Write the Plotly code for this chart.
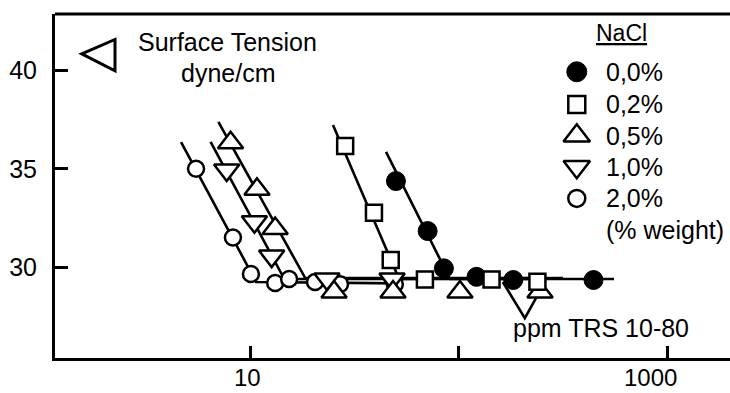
import math
import plotly.graph_objects as go

# ---------------- data ----------------
nacl_labels = ["0,0%", "0,2%", "0,5%", "1,0%", "2,0%"]

x_00 = [50.1, 71.1, 85.1, 122, 183, 444]
y_00 = [34.38, 31.85, 29.96, 29.53, 29.37, 29.37]
x_02 = [28.6, 39.3, 47.3, 69.0, 144, 239]
y_02 = [36.15, 32.77, 30.38, 29.40, 29.40, 29.28]
x_05 = [8.07, 10.8, 13.2, 25.3, 48.5, 101.6, 246]
y_05 = [36.32, 33.96, 31.98, 28.76, 28.76, 28.76, 28.76]
x_10 = [7.73, 10.5, 12.7, 23.4, 48.0]
y_10 = [34.94, 32.32, 30.58, 29.42, 29.42]
x_20 = [5.51, 8.28, 10.1, 13.2, 15.4, 20.5, 27.0, 49.5]
y_20 = [35.0, 31.52, 29.67, 29.22, 29.42, 29.27, 29.16, 29.16]

# fitted lines (steep part + plateau)
fit_x_00 = [44.9, 91, 557]
fit_y_00 = [35.86, 29.42, 29.42]
fit_x_02 = [25.0, 51.9, 317]
fit_y_02 = [37.22, 29.42, 29.47]
fit_x_05 = [7.05, 18.4, 260]
fit_y_05 = [37.38, 29.47, 29.47]
fit_x_10 = [6.47, 14.6, 260]
fit_y_10 = [36.37, 29.42, 29.42]
fit_x_20 = [4.67, 10.7, 52.4]
fit_y_20 = [36.35, 29.27, 29.2]

# callout V pointing to the "ppm TRS" note
callout_x = [163, 208, 260]
callout_y = [29.27, 27.44, 29.27]

x_tick_vals = [10, 100, 1000]
x_tick_text = ["10", "", "1000"]
y_tick_vals = [30, 35, 40]
y_tick_text = ["30", "35", "40"]

# legend rows (fractions of the plot area)
legend_x = 0.773
legend_y = [0.832, 0.737, 0.646, 0.556, 0.464]

# ---------------- styles ----------------
FONT = "Liberation Sans, Arial, Helvetica, sans-serif"
FS = 25
BLK = "black"
LW = 2.6
x_label_shift = [-3, 0, -17]   # horizontal label offsets (px) as in the original

styles = [
    dict(symbol="circle", size=19, color=BLK, line=dict(color=BLK, width=1)),
    dict(symbol="square", size=16, color="white", line=dict(color=BLK, width=2.5)),
    dict(symbol="triangle-up", size=22, color="white", line=dict(color=BLK, width=2.5)),
    dict(symbol="triangle-down", size=22, color="white", line=dict(color=BLK, width=2.5)),
    dict(symbol="circle", size=16, color="white", line=dict(color=BLK, width=2.5)),
]
legend_styles = [
    dict(symbol="circle", size=20, color=BLK, line=dict(color=BLK, width=1)),
    dict(symbol="square", size=17, color="white", line=dict(color=BLK, width=2.5)),
    dict(symbol="triangle-up", size=23, color="white", line=dict(color=BLK, width=2.5)),
    dict(symbol="triangle-down", size=23, color="white", line=dict(color=BLK, width=2.5)),
    dict(symbol="circle", size=17, color="white", line=dict(color=BLK, width=2.5)),
]

series_x = [x_00, x_02, x_05, x_10, x_20]
series_y = [y_00, y_02, y_05, y_10, y_20]
fits_x = [fit_x_00, fit_x_02, fit_x_05, fit_x_10, fit_x_20]
fits_y = [fit_y_00, fit_y_02, fit_y_05, fit_y_10, fit_y_20]

fig = go.Figure()

# callout and fit lines first
fig.add_trace(go.Scatter(x=callout_x, y=callout_y, mode="lines",
                         line=dict(color=BLK, width=LW), showlegend=False,
                         hoverinfo="skip"))
for fx, fy in zip(fits_x, fits_y):
    fig.add_trace(go.Scatter(x=fx, y=fy, mode="lines",
                             line=dict(color=BLK, width=LW), showlegend=False,
                             hoverinfo="skip"))

# markers (bottom to top)
draw_order = [4, 3, 2, 0, 1]
for i in draw_order:
    fig.add_trace(go.Scatter(x=series_x[i], y=series_y[i], mode="markers",
                             marker=styles[i], name=nacl_labels[i],
                             showlegend=False, cliponaxis=False))

# manual legend markers on an overlay axis spanning the plot area
for i in range(5):
    fig.add_trace(go.Scatter(x=[legend_x], y=[legend_y[i]], mode="markers",
                             marker=legend_styles[i], xaxis="x2", yaxis="y2",
                             showlegend=False, cliponaxis=False, hoverinfo="skip"))

annotations = []
for i, lab in enumerate(nacl_labels):
    annotations.append(dict(x=0.813, y=legend_y[i], xref="paper", yref="paper",
                            text=lab, showarrow=False, xanchor="left",
                            yanchor="middle", font=dict(size=FS, color=BLK, family=FONT)))
# x tick labels (drawn as annotations so they stay inside the page)
for v, t, sh in zip(x_tick_vals, x_tick_text, x_label_shift):
    if t:
        annotations.append(dict(x=math.log10(v), xref="x", y=0, yref="paper",
                                text=t, showarrow=False, xanchor="center",
                                yanchor="bottom", yshift=-35, xshift=sh,
                                font=dict(size=24, color=BLK, family=FONT)))
annotations += [
    dict(x=0.813, y=0.372, xref="paper", yref="paper", text="(% weight)",
         showarrow=False, xanchor="left", yanchor="middle",
         font=dict(size=FS, color=BLK, family=FONT)),
    dict(x=0.8396, y=0.945, xref="paper", yref="paper", text="<u>NaCl</u>",
         showarrow=False, xanchor="center", yanchor="middle",
         font=dict(size=FS - 2, color=BLK, family=FONT)),
    dict(x=0.256, y=0.919, xref="paper", yref="paper", text="Surface Tension",
         showarrow=False, xanchor="center", yanchor="middle",
         font=dict(size=FS, color=BLK, family=FONT)),
    dict(x=0.256, y=0.828, xref="paper", yref="paper", text="dyne/cm",
         showarrow=False, xanchor="center", yanchor="middle",
         font=dict(size=FS, color=BLK, family=FONT)),
    dict(x=0.676, y=0.087, xref="paper", yref="paper", text="ppm TRS 10-80",
         showarrow=False, xanchor="left", yanchor="middle",
         font=dict(size=FS, color=BLK, family=FONT)),
]

shapes = [
    dict(type="path", xref="paper", yref="paper",
         path="M 0.0396 0.884 L 0.0889 0.926 L 0.0889 0.835 Z",
         line=dict(color=BLK, width=3), fillcolor="white"),
]

fig.update_layout(
    width=730, height=393,
    autosize=False,
    margin=dict(l=55, r=0, t=14, b=35, pad=0, autoexpand=False),
    paper_bgcolor="white", plot_bgcolor="white",
    showlegend=False,
    font=dict(family=FONT, size=FS, color=BLK),
    annotations=annotations,
    shapes=shapes,
    xaxis=dict(type="log", range=[0.0647, 3.302], automargin=False,
               tickvals=x_tick_vals, showticklabels=False,
               ticks="inside", ticklen=12, tickwidth=3, tickcolor=BLK,
               showline=True, linewidth=3, linecolor=BLK, mirror=False,
               showgrid=False, zeroline=False),
    yaxis=dict(range=[25.42, 42.84], automargin=False,
               tickvals=y_tick_vals, ticktext=y_tick_text,
               ticks="inside", ticklen=13, tickwidth=3, tickcolor=BLK,
               showline=True, linewidth=3, linecolor=BLK,
               showgrid=False, zeroline=False,
               ticklabelstandoff=10,
               tickfont=dict(size=FS, family=FONT, color=BLK)),
    xaxis2=dict(overlaying="x", range=[0, 1], visible=False, anchor="y2"),
    yaxis2=dict(overlaying="y", range=[0, 1], visible=False, anchor="x2"),
)

# top border line
fig.add_shape(type="line", xref="paper", yref="paper", x0=0, x1=1, y0=1, y1=1,
              line=dict(color=BLK, width=3))

fig.write_html("out.html")
